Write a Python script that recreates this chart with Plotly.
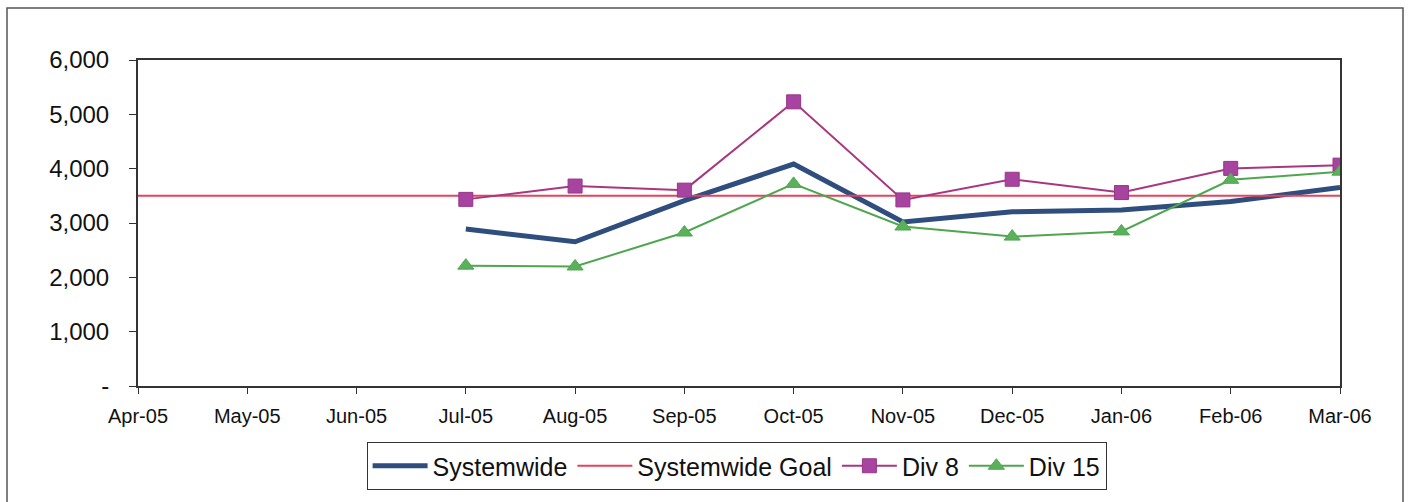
import plotly.graph_objects as go

months = ["Apr-05", "May-05", "Jun-05", "Jul-05", "Aug-05", "Sep-05",
          "Oct-05", "Nov-05", "Dec-05", "Jan-06", "Feb-06", "Mar-06"]

systemwide = [None, None, None, 2890, 2655, 3410, 4085, 3020, 3205, 3240, 3395, 3655]
systemwide_goal = [3500] * 12
div_8 = [None, None, None, 3435, 3680, 3605, 5230, 3425, 3805, 3560, 4005, 4065]
div_15 = [None, None, None, 2215, 2200, 2825, 3720, 2935, 2750, 2845, 3795, 3945]

y_ticks = [0, 1000, 2000, 3000, 4000, 5000, 6000]
y_tick_text = ["-", "1,000", "2,000", "3,000", "4,000", "5,000", "6,000"]

FONT = "Liberation Sans, Arial, sans-serif"

fig = go.Figure()
fig.add_trace(go.Scatter(
    x=months, y=systemwide, name="Systemwide", mode="lines",
    line=dict(color="#2F4E7E", width=5), connectgaps=False))
fig.add_trace(go.Scatter(
    x=months, y=systemwide_goal, name="Systemwide Goal", mode="lines",
    line=dict(color="#E8415C", width=2)))
fig.add_trace(go.Scatter(
    x=months, y=div_8, name="Div 8", mode="lines+markers",
    line=dict(color="#A8377F", width=2),
    marker=dict(symbol="square", size=14, color="#A644A0",
                line=dict(color="#9A3488", width=1))))
fig.add_trace(go.Scatter(
    x=months, y=div_15, name="Div 15", mode="lines+markers",
    line=dict(color="#4FA650", width=2),
    marker=dict(symbol="triangle-up", size=14, color="#5BB05A",
                line=dict(color="#4FA650", width=1))))

# plot area in pixels: x 138..1340, y 60..386
L, R, T, B = 138, 73, 60, 116
W, H = 1413, 502
pw, ph = W - L - R, H - T - B

def px_x(v):
    return (v - L) / pw

def px_y(v):
    return (H - B - v) / ph

fig.update_layout(
    width=W, height=H,
    margin=dict(l=L, r=R, t=T, b=B, pad=0),
    paper_bgcolor="white", plot_bgcolor="white",
    font=dict(family=FONT, color="#111111"),
    showlegend=True,
    legend=dict(
        orientation="h", x=0.498, xanchor="center",
        y=px_y(466), yanchor="middle",
        font=dict(size=25, family=FONT, color="#111111"),
        bordercolor="#333333", borderwidth=1, bgcolor="white",
        itemwidth=55, traceorder="normal", tracegroupgap=0,
    ),
    xaxis=dict(
        type="category", range=[0, 11], showgrid=False,
        showline=True, linecolor="#333333", linewidth=2, mirror=True,
        ticks="outside", ticklen=6, tickcolor="#333333", tickwidth=1,
        tickmode="array", tickvals=months, ticktext=months,
        tickfont=dict(size=20, family=FONT, color="#111111"),
        ticklabelstandoff=5, zeroline=False,
    ),
    yaxis=dict(
        range=[0, 6000], showgrid=False, zeroline=False,
        showline=True, linecolor="#333333", linewidth=2, mirror=True,
        ticks="outside", ticklen=7, tickcolor="#333333", tickwidth=1,
        tickmode="array", tickvals=y_ticks, ticktext=y_tick_text,
        tickfont=dict(size=24, family=FONT, color="#111111"),
        ticklabelstandoff=15,
    ),
    shapes=[dict(
        type="rect", xref="paper", yref="paper",
        x0=px_x(7), x1=px_x(1403), y0=px_y(520), y1=px_y(8),
        line=dict(color="#555555", width=1.5), fillcolor="rgba(0,0,0,0)",
        layer="below",
    )],
)

fig.write_html("out.html")
